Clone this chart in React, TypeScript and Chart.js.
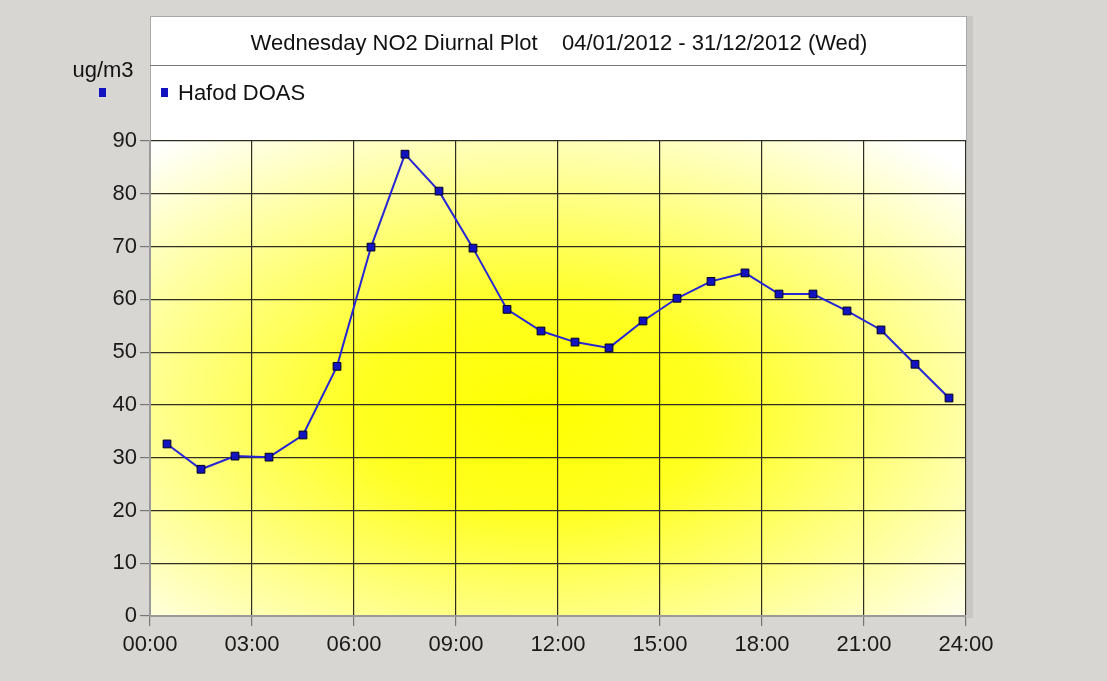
import React, { useEffect, useRef } from "react";
import { Chart, registerables } from "chart.js";

Chart.register(...registerables);

const hours = [0.5, 1.5, 2.5, 3.5, 4.5, 5.5, 6.5, 7.5, 8.5, 9.5, 10.5, 11.5, 12.5, 13.5, 14.5, 15.5, 16.5, 17.5, 18.5, 19.5, 20.5, 21.5, 22.5, 23.5];
const no2 = [32.6, 27.8, 30.3, 30.1, 34.3, 47.3, 69.9, 87.5, 80.5, 69.7, 58.1, 54.0, 51.9, 50.8, 55.9, 60.2, 63.4, 65.0, 61.0, 61.0, 57.8, 54.2, 47.7, 41.3];
const xTickLabels = ["00:00", "03:00", "06:00", "09:00", "12:00", "15:00", "18:00", "21:00", "24:00"];
const seriesName = "Hafod DOAS";
const titleText = "Wednesday NO2 Diurnal Plot    04/01/2012 - 31/12/2012 (Wed)";
const unitText = "ug/m3";

const FONT = "'Liberation Sans', Arial, sans-serif";
const LINE_BLUE = "#2626d4";
const POINT_BLUE = "#1212c0";

const decorPlugin = {
  id: "decor",
  beforeDraw(chart: any) {
    const { ctx, chartArea, width, height } = chart;
    const { left, right, top, bottom } = chartArea;
    ctx.save();
    ctx.fillStyle = "#d8d6d2";
    ctx.fillRect(0, 0, width, height);
    // header box
    ctx.fillStyle = "#ffffff";
    ctx.fillRect(left, 16, right - left, top - 16);
    ctx.strokeStyle = "#a8a8a8";
    ctx.lineWidth = 1;
    ctx.strokeRect(left + 0.5, 16.5, right - left, top - 16);
    // plot gradient (elliptical radial)
    const cx = (left + right) / 2 - 20;
    const cy = (top + bottom) / 2 + 30;
    const rx = (right - left) / 2;
    const ry = (bottom - top) / 2;
    ctx.save();
    ctx.beginPath();
    ctx.rect(left, top, right - left, bottom - top);
    ctx.clip();
    ctx.translate(cx, cy);
    ctx.scale(rx, ry);
    const g = ctx.createRadialGradient(0, 0, 0, 0, 0, 1.45);
    g.addColorStop(0, "#ffff00");
    g.addColorStop(0.3, "#ffff20");
    g.addColorStop(0.65, "#ffff90");
    g.addColorStop(1, "#ffffff");
    ctx.fillStyle = g;
    ctx.fillRect(-2, -2, 4, 4);
    ctx.restore();
    // right-side shadow
    ctx.fillStyle = "#c9c7c4";
    ctx.fillRect(right + 1, 16, 6, bottom - 16 + 2);
    ctx.restore();
  },
  afterDraw(chart: any) {
    const { ctx, chartArea } = chart;
    const { left, right } = chartArea;
    ctx.save();
    // title
    ctx.fillStyle = "#111111";
    ctx.font = `22px ${FONT}`;
    ctx.textAlign = "center";
    ctx.textBaseline = "middle";
    ctx.fillText(titleText, (left + right) / 2 + 1, 44);
    // separator
    ctx.strokeStyle = "#7a7a7a";
    ctx.lineWidth = 1;
    ctx.beginPath();
    ctx.moveTo(left, 65.5);
    ctx.lineTo(right, 65.5);
    ctx.stroke();
    // unit label
    ctx.fillStyle = "#111111";
    ctx.fillText(unitText, 103, 71);
    ctx.fillStyle = POINT_BLUE;
    ctx.fillRect(99, 88, 7, 9);
    // legend
    const label = chart.data.datasets[0].label;
    ctx.fillStyle = POINT_BLUE;
    ctx.fillRect(161, 88, 7, 9);
    ctx.fillStyle = "#111111";
    ctx.textAlign = "left";
    ctx.fillText(label, 178, 94);
    ctx.restore();
  },
};

export default function App() {
  const ref = useRef<HTMLCanvasElement>(null);
  useEffect(() => {
    if (!ref.current) return;
    const chart = new Chart(ref.current, {
      type: "line",
      data: {
        datasets: [
          {
            label: seriesName,
            data: hours.map((h, i) => ({ x: h, y: no2[i] })),
            borderColor: LINE_BLUE,
            borderWidth: 2,
            pointStyle: "rect",
            pointRadius: 5.5,
            pointBackgroundColor: POINT_BLUE,
            pointBorderColor: "#000022",
            pointBorderWidth: 1,
            tension: 0,
          },
        ],
      },
      options: {
        animation: false,
        responsive: false,
        layout: { padding: { left: 0, right: 141, top: 141, bottom: 0 } },
        plugins: {
          legend: { display: false },
          title: { display: false },
          tooltip: { enabled: false },
        },
        scales: {
          x: {
            type: "linear",
            min: 0,
            max: 24,
            afterFit: (s: any) => {
              s.height = 65;
            },
            ticks: {
              stepSize: 3,
              autoSkip: false,
              maxRotation: 0,
              padding: 6,
              color: "#1a1a1a",
              font: { family: FONT, size: 22 },
              callback: (_v: any, i: number) => xTickLabels[i],
            },
            grid: { color: "#2e2e22", lineWidth: 1.2, tickLength: 10, tickColor: "#777777" },
            border: { color: "#9a9a9a", width: 2 },
          },
          y: {
            min: 0,
            max: 90,
            afterFit: (s: any) => {
              s.width = 150;
            },
            ticks: {
              stepSize: 10,
              padding: 3,
              color: "#1a1a1a",
              font: { family: FONT, size: 22 },
            },
            grid: { color: "#2e2e22", lineWidth: 1.2, tickLength: 10, tickColor: "#777777" },
            border: { color: "#9a9a9a", width: 2 },
          },
        },
      },
      plugins: [decorPlugin],
    });
    return () => chart.destroy();
  }, []);
  return (
    <div style={{ position: "fixed", left: 0, top: 0, width: 1107, height: 681, background: "#d8d6d2" }}>
      <canvas ref={ref} width={1107} height={681} style={{ display: "block" }} />
    </div>
  );
}
